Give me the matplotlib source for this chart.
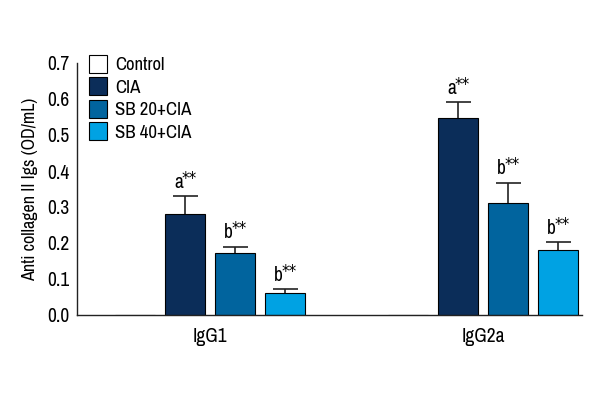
import matplotlib
matplotlib.use("Agg")
import matplotlib.pyplot as plt
from matplotlib import font_manager as fm
import numpy as np

# pick a narrow font if one is installed
narrow = [f for f in fm.fontManager.ttflist
          if ("Narrow" in f.name or "Condensed" in f.name or f.stretch in ("condensed", "semi-condensed"))]
names = sorted(set((f.name, f.stretch) for f in narrow))
if names:
    plt.rcParams["font.family"] = [names[0][0], "DejaVu Sans"]
    plt.rcParams["font.stretch"] = names[0][1]

# data
groups = ["IgG1", "IgG2a"]
series = ["Control", "CIA", "SB 20+CIA", "SB 40+CIA"]
values = {
    "Control": [0.0, 0.0],
    "CIA": [0.28, 0.548],
    "SB 20+CIA": [0.172, 0.31],
    "SB 40+CIA": [0.061, 0.18],
}
errors = {
    "Control": [0.0, 0.0],
    "CIA": [0.05, 0.044],
    "SB 20+CIA": [0.018, 0.058],
    "SB 40+CIA": [0.011, 0.022],
}
marks = {
    "Control": ["", ""],
    "CIA": ["a", "a"],
    "SB 20+CIA": ["b", "b"],
    "SB 40+CIA": ["b", "b"],
}
colors = ["white", "#0b2d59", "#01649e", "#00a2e3"]

fig = plt.figure(figsize=(6, 4), dpi=100)
ax = fig.add_axes([0.128, 0.2125, 0.842, 0.63])

centers = np.array([0, 5.46])
offsets = [-1.5, -0.5, 0.5, 1.5]
width = 0.8

for i, s in enumerate(series):
    x = centers + offsets[i]
    v = np.array(values[s])
    e = np.array(errors[s])
    ax.bar(x, v, width, color=colors[i], edgecolor="black", linewidth=0.8,
           label=s, zorder=2)
    if s != "Control":
        _, caps, _ = ax.errorbar(x, v, yerr=[np.zeros_like(e), e], fmt="none",
                                 ecolor="#222222", elinewidth=1.2, capsize=9,
                                 capthick=1.2, zorder=1)
        caps[0].set_visible(False)  # no cap at the bar top
        for xi, vi, ei, m in zip(x, v, e, marks[s]):
            ax.annotate(m, (xi, vi + ei), xytext=(-1.5, 3), textcoords="offset points",
                        ha="right", va="bottom", fontsize=14)
            ax.annotate("**", (xi, vi + ei), xytext=(-2.5, 6), textcoords="offset points",
                        ha="left", va="bottom", fontsize=12, family="DejaVu Sans")

ax.set_xlim(-2.66, 7.44)
ax.set_ylim(0, 0.7)
ax.set_yticks(np.arange(0, 0.71, 0.1))
ax.set_yticklabels([f"{t:.1f}" for t in np.arange(0, 0.71, 0.1)])
ax.set_xticks(centers)
ax.set_xticklabels(groups)
ax.tick_params(axis="both", length=0, labelsize=14, pad=5)
ax.tick_params(axis="x", pad=9)
for sp in ["top", "right"]:
    ax.spines[sp].set_visible(False)
for sp in ["left", "bottom"]:
    ax.spines[sp].set_linewidth(1.0)
    ax.spines[sp].set_color("#222222")
ax.set_ylabel("Anti collagen II Igs (OD/mL)", fontsize=13, labelpad=7)

ax.legend(loc="upper left", bbox_to_anchor=(0.005, 1.07), frameon=False,
          fontsize=13.5, handlelength=1.0, handleheight=1.1, handletextpad=0.4,
          labelspacing=0.22, borderpad=0)

fig.savefig("out.png", dpi=100)
